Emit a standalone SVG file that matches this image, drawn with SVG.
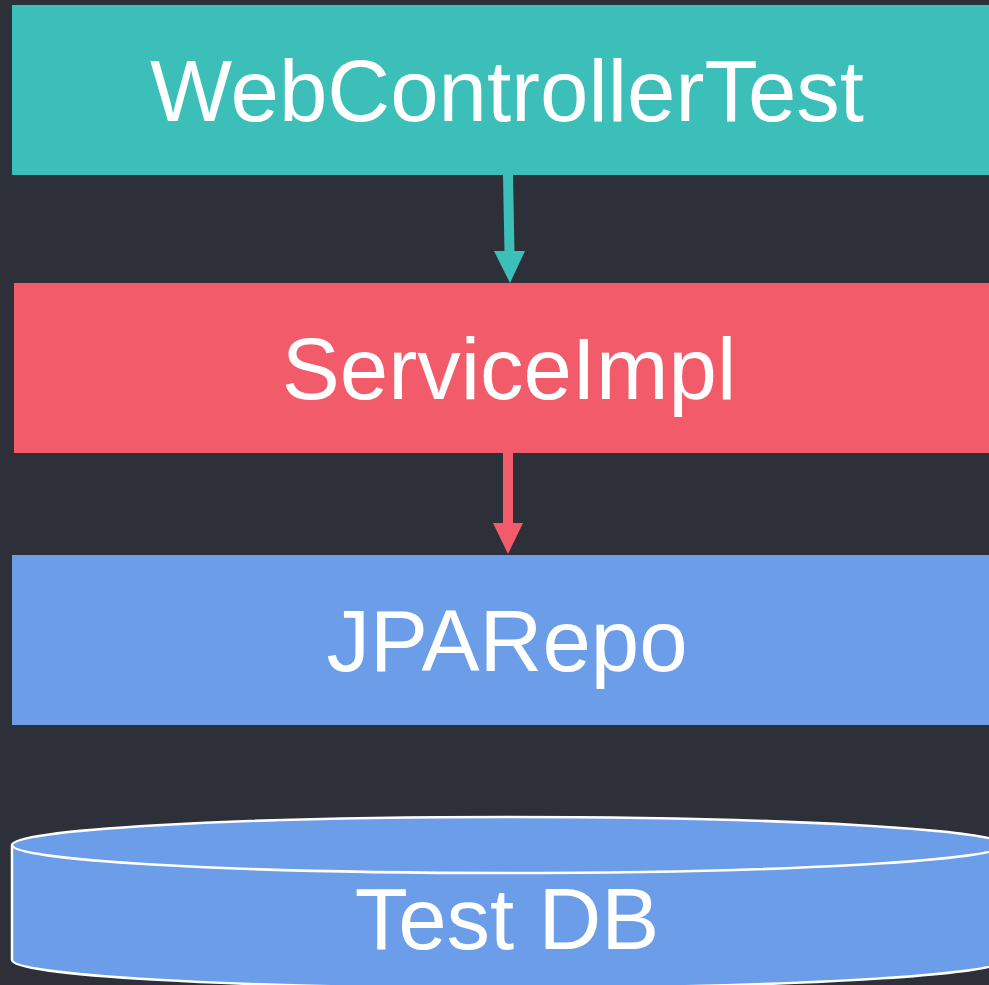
<svg xmlns="http://www.w3.org/2000/svg" width="989" height="985" viewBox="0 0 989 985">
  <style>
    .lbl { font-family: "Liberation Sans", Arial, sans-serif; font-size: 87px; fill: #ffffff; text-anchor: middle; }
  </style>
  <rect x="0" y="0" width="989" height="985" fill="#2e3039"/>
  <g id="connectors">
    <line x1="508" y1="175" x2="509.5" y2="253" stroke="#3bbfb8" stroke-width="10"/>
    <polygon points="494,251 525,251 510,283" fill="#3bbfb8"/>
    <line x1="508" y1="453" x2="508" y2="525" stroke="#f25c6a" stroke-width="10"/>
    <polygon points="493,523 523,523 508,554" fill="#f25c6a"/>
  </g>
  <g id="webcontrollertest">
    <rect x="12" y="5" width="992" height="170" fill="#3bbfb8"/>
    <text class="lbl" x="507" y="121">WebControllerTest</text>
  </g>
  <g id="serviceimpl">
    <rect x="14" y="283" width="990" height="170" fill="#f25c6a"/>
    <text class="lbl" x="509" y="399">ServiceImpl</text>
  </g>
  <g id="jparepo">
    <rect x="12" y="555" width="992" height="170" fill="#6b9de9"/>
    <text class="lbl" x="507" y="671">JPARepo</text>
  </g>
  <g id="testdb">
    <path d="M12,845 L12,960 A496,28 0 0 0 1004,960 L1004,845 A496,28 0 0 0 12,845 Z" fill="#6b9de9" stroke="#ffffff" stroke-width="2.5"/>
    <path d="M12,845 A496,28 0 0 0 1004,845" fill="none" stroke="#ffffff" stroke-width="2.5"/>
    <text class="lbl" x="507" y="949">Test DB</text>
  </g>
</svg>
